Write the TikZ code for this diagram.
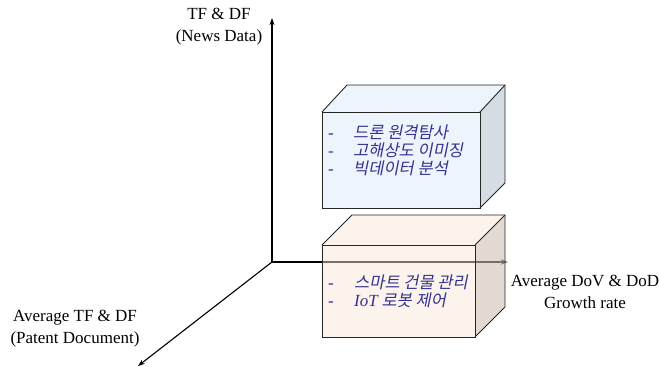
\documentclass[tikz,border=0pt]{standalone}
\usepackage{fontspec}
\setmainfont{Liberation Serif}
\newfontfamily\kr[FakeSlant=0.2]{Noto Sans CJK KR}
\usetikzlibrary{arrows.meta}
\definecolor{kblue}{HTML}{33338F}
\definecolor{bfront}{HTML}{EEF4FC}
\definecolor{bside}{HTML}{D6DCE4}
\definecolor{pfront}{HTML}{FCF3EC}
\definecolor{pside}{HTML}{E3D9D3}
\definecolor{axisin}{HTML}{7A6E68}
\tikzset{
  axis/.style={line width=1.4pt,-{Stealth[length=7pt,width=5pt]}},
  boxedge/.style={draw=black!85,line width=0.9pt,line join=miter},
  lbl/.style={font=\fontsize{17}{22}\selectfont,align=center,inner sep=0pt},
  item/.style={font=\kr\fontsize{16.5}{18}\selectfont,text=kblue,anchor=base west,inner sep=0pt},
  dashitem/.style={font=\fontsize{17}{18}\selectfont,text=kblue,anchor=base,inner sep=0pt}
}
\begin{document}
\begin{tikzpicture}[x=1pt,y=-1pt]
\useasboundingbox (0,0) rectangle (659,367);
\coordinate (O) at (272,262);
\coordinate (Ytip) at (272,18);
\coordinate (Xtip) at (508,262);
\coordinate (Xin) at (322,262);
\coordinate (Ztip) at (138,366);
\draw[axis,line width=1.1pt] (O) -- (Ytip);
\draw[axis,line width=1.1pt] (O) -- (Ztip);
\draw[line width=2pt] (O) -- (Xin);
% top box
\fill[bfront] (322,112) -- (347,85) -- (505,85) -- (480,112) -- cycle;
\fill[bside] (480,112) -- (505,85) -- (505,183) -- (480,208) -- cycle;
\fill[bfront] (322,112) rectangle (480,208);
\draw[boxedge] (322,112) rectangle (480,208);
\draw[boxedge] (322,112) -- (347,85) -- (505,85) -- (505,183) -- (480,208);
\draw[boxedge] (480,112) -- (505,85);
% bottom box
\fill[pfront] (322,245) -- (352,215) -- (505,215) -- (475,245) -- cycle;
\fill[pside] (475,245) -- (505,215) -- (505,307) -- (475,337) -- cycle;
\fill[pfront] (322,245) rectangle (475,337);
\draw[axisin,line width=1.3pt,-{Stealth[length=7pt,width=5pt]}] (Xin) -- (Xtip);
\draw[boxedge] (322,245) rectangle (475,337);
\draw[boxedge] (322,245) -- (352,215) -- (505,215) -- (505,307) -- (475,337);
\draw[boxedge] (475,245) -- (505,215);
% labels
\node[lbl] (ylab) at (219,27) {TF \& DF\\(News Data)};
\node[lbl] (xlab) at (585,292) {Average DoV \& DoD\\Growth rate};
\node[lbl] (zlab) at (75,329) {Average TF \& DF\\(Patent Document)};
% items top
\node[dashitem] (d1) at (331,138) {-};
\node[dashitem] (d2) at (331,156) {-};
\node[dashitem] (d3) at (331,174) {-};
\node[item] (t1) at (353,138) {드론 원격탐사};
\node[item] (t2) at (353,156) {고해상도 이미징};
\node[item] (t3) at (353,174) {빅데이터 분석};
% items bottom
\node[dashitem] (d4) at (331,288) {-};
\node[dashitem] (d5) at (331,306) {-};
\node[item] (t4) at (354,288) {스마트 건물 관리};
\node[item] (t5) at (354,306) {{\rmfamily\itshape\fontsize{17}{18}\selectfont IoT} 로봇 제어};
\end{tikzpicture}
\end{document}
